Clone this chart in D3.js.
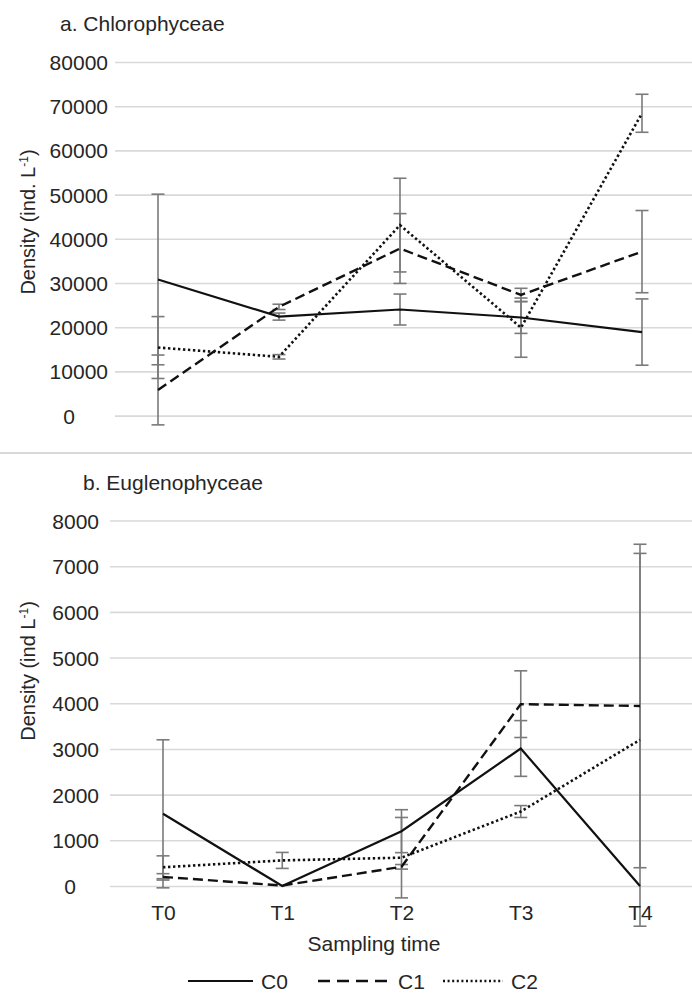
<!DOCTYPE html>
<html><head><meta charset="utf-8">
<script src="https://cdn.jsdelivr.net/npm/d3@7/dist/d3.min.js"></script>
<style>body{margin:0;background:#fff}</style>
</head><body>
<svg id="c" width="692" height="996"></svg>
<script>
const categories = ["T0", "T1", "T2", "T3", "T4"];
const seriesNames = ["C0", "C1", "C2"];

// a. Chlorophyceae
const chloroC0 = [30800, 22400, 24000, 22200, 18900];
const chloroC0Err = [19300, 800, 3500, 3600, 7500];
const chloroC1 = [5800, 24600, 37800, 27300, 37100];
const chloroC1Err = [7900, 600, 7900, 1500, 9300];
const chloroC2 = [15400, 13300, 43100, 19900, 68400];
const chloroC2Err = [7000, 500, 10600, 6700, 4300];
const chloroTicks = [0, 10000, 20000, 30000, 40000, 50000, 60000, 70000, 80000];

// b. Euglenophyceae
const euglC0 = [1580, 0, 1200, 3010, 0];
const euglC0Err = [1620, 0, 470, 610, 0];
const euglC1 = [200, 10, 420, 3980, 3940];
const euglC1Err = [70, 0, 50, 730, 3540];
const euglC2 = [410, 560, 620, 1630, 3200];
const euglC2Err = [250, 175, 880, 130, 4080];
const euglTicks = [0, 1000, 2000, 3000, 4000, 5000, 6000, 7000, 8000];

const FONT = "'Liberation Sans', Arial, Helvetica, sans-serif";
const FS = "21px";
const TXT = "#262626";
const styles = {
  C0: {dash: null, width: 2.2},
  C1: {dash: "10,5", width: 2.4},
  C2: {dash: "2.4,2.6", width: 2.6}
};

const svg = d3.select("#c");
svg.append("rect").attr("width", 692).attr("height", 996).attr("fill", "#fff");

function panel(o) {
  const g = svg.append("g");
  const x = d3.scalePoint().domain(categories).range(o.xRange);
  const y = d3.scaleLinear().domain([0, o.max]).range(o.yRange);

  const ax = g.append("g").attr("transform", `translate(${o.gridX0},0)`)
    .call(d3.axisLeft(y).tickValues(o.ticks).tickFormat(d3.format("d"))
      .tickSize(-(692 - o.gridX0)).tickPadding(o.pad));
  ax.select(".domain").remove();
  ax.selectAll(".tick line").attr("stroke", "#d9d9d9").attr("stroke-width", 1.6);
  ax.selectAll(".tick text").attr("fill", TXT).style("font-family", FONT)
    .style("font-size", FS).attr("dy", "0.36em");
  ax.selectAll(".tick text").filter(d => d === 0)
    .attr("text-anchor", "middle").attr("x", o.zeroX - o.gridX0);

  g.append("text").attr("x", o.titleX).attr("y", o.titleY).text(o.title)
    .attr("fill", TXT).style("font-family", FONT).style("font-size", FS);

  const yt = g.append("text")
    .attr("transform", `translate(${o.ytX},${o.ytY}) rotate(-90)`)
    .attr("text-anchor", "middle").attr("fill", TXT)
    .style("font-family", FONT).style("font-size", "20px");
  yt.append("tspan").text(o.ytitle);
  yt.append("tspan").text(o.sup).attr("baseline-shift", "super").style("font-size", "12px");
  yt.append("tspan").text(")");

  const eb = g.append("g");
  o.series.forEach(s => {
    s.values.forEach((v, i) => {
      const e = s.err[i];
      if (!e) return;
      const cx = x(categories[i]);
      const y1 = y(v - e), y2 = y(v + e);
      eb.append("line").attr("x1", cx).attr("x2", cx).attr("y1", y1).attr("y2", y2)
        .attr("stroke", "#7a7a7a").attr("stroke-width", 1.6);
      [y1, y2].forEach(yy => eb.append("line").attr("x1", cx - 6.5).attr("x2", cx + 6.5)
        .attr("y1", yy).attr("y2", yy).attr("stroke", "#7a7a7a").attr("stroke-width", 1.6));
    });
  });

  const line = d3.line().x((d, i) => x(categories[i])).y(d => y(d));
  o.series.forEach(s => {
    const st = styles[s.name];
    g.append("path").datum(s.values).attr("d", line).attr("fill", "none")
      .attr("stroke", "#111").attr("stroke-width", st.width)
      .attr("stroke-dasharray", st.dash);
  });
  return {x, y, g};
}

panel({
  title: "a. Chlorophyceae", titleX: 60, titleY: 31,
  xRange: [158, 642], yRange: [415.6, 62], max: 80000, ticks: chloroTicks,
  gridX0: 115, pad: 7, zeroX: 69,
  ytitle: "Density (ind. L", sup: "-1", ytX: 35, ytY: 222,
  series: [
    {name: "C0", values: chloroC0, err: chloroC0Err},
    {name: "C1", values: chloroC1, err: chloroC1Err},
    {name: "C2", values: chloroC2, err: chloroC2Err}
  ]
});

svg.append("line").attr("x1", 0).attr("x2", 692).attr("y1", 453).attr("y2", 453)
  .attr("stroke", "#d9d9d9").attr("stroke-width", 2);

const pb = panel({
  title: "b. Euglenophyceae", titleX: 83, titleY: 490,
  xRange: [163, 640], yRange: [886, 520.5], max: 8000, ticks: euglTicks,
  gridX0: 110, pad: 11, zeroX: 70,
  ytitle: "Density (ind L", sup: "-1", ytX: 35, ytY: 671,
  series: [
    {name: "C0", values: euglC0, err: euglC0Err},
    {name: "C1", values: euglC1, err: euglC1Err},
    {name: "C2", values: euglC2, err: euglC2Err}
  ]
});

const xa = svg.append("g").attr("transform", "translate(0,912)")
  .call(d3.axisBottom(pb.x).tickSize(0).tickPadding(0));
xa.select(".domain").remove();
xa.selectAll(".tick text").attr("fill", TXT).style("font-family", FONT)
  .style("font-size", FS).attr("dy", "0.36em").attr("y", 0);

svg.append("text").attr("x", 374).attr("y", 943).attr("dy", "0.36em")
  .attr("text-anchor", "middle").text("Sampling time")
  .attr("fill", TXT).style("font-family", FONT).style("font-size", FS);

const legendX = [188, 318, 443];
const legendW = [65, 72, 60];
const lg = svg.append("g").attr("transform", "translate(0,981)");
seriesNames.forEach((n, i) => {
  const st = styles[n];
  lg.append("line").attr("x1", legendX[i]).attr("x2", legendX[i] + legendW[i])
    .attr("y1", 0).attr("y2", 0).attr("stroke", "#111").attr("stroke-width", st.width)
    .attr("stroke-dasharray", n === "C1" ? "12,7" : (n === "C2" ? "2,2.6" : st.dash));
  lg.append("text").attr("x", legendX[i] + legendW[i] + 8).attr("y", 0).attr("dy", "0.36em")
    .text(n).attr("fill", TXT).style("font-family", FONT).style("font-size", FS);
});
</script>
</body></html>
